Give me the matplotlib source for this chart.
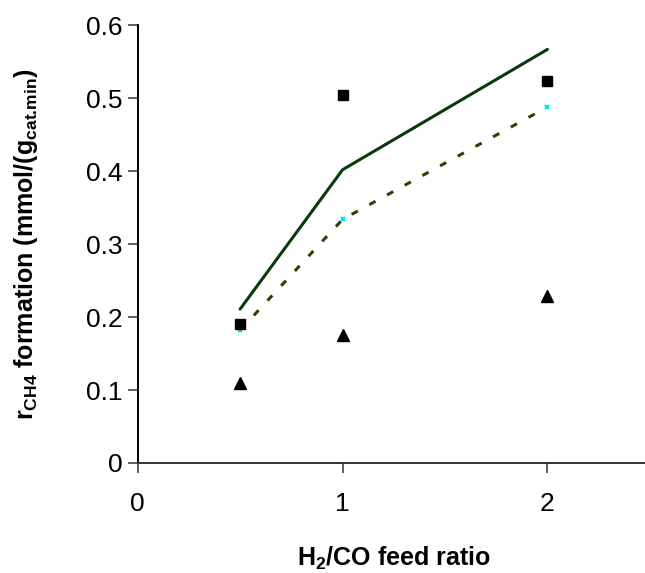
import numpy as np
import matplotlib
matplotlib.use("Agg")
import matplotlib.pyplot as plt

plt.rcParams['font.family'] = ['Liberation Sans', 'DejaVu Sans']
plt.rcParams['mathtext.fontset'] = 'custom'
plt.rcParams['mathtext.rm'] = 'Liberation Sans:bold'
plt.rcParams['mathtext.bf'] = 'Liberation Sans:bold'

# H2/CO feed ratio
ratio = [0.5, 1, 2]
# experimental rates
exp_square = [0.190, 0.504, 0.524]
exp_triangle = [0.109, 0.175, 0.229]
# model predictions
model_solid = [0.211, 0.402, 0.567]
model_dotted = [0.182, 0.334, 0.488]

xticks = [0, 1, 2]
yticks = [0, 0.1, 0.2, 0.3, 0.4, 0.5, 0.6]
ytick_labels = ["0", "0.1", "0.2", "0.3", "0.4", "0.5", "0.6"]

fig = plt.figure(figsize=(6.45, 5.73), dpi=100)
ax = fig.add_axes([0.2135, 0.192, 0.794, 0.7638])

ax.plot(ratio, model_solid, color='#0a3a0a', lw=2.2, solid_capstyle='round')
ax.plot(ratio, model_dotted, color='#3a3a08', lw=2.2, dashes=(2.3, 4.3),
        marker='x', markersize=3.5, markeredgewidth=1.5,
        markeredgecolor='#00e5ee')
ax.plot(ratio, exp_square, ls='none', marker='s', markersize=7, color='black')
ax.plot(ratio, exp_triangle, ls='none', marker='^', markersize=8.5, color='black')

ax.set_xlim(0, 2.5)
ax.set_ylim(0, 0.6)
ax.set_xticks(xticks)
ax.set_xticklabels([str(t) for t in xticks])
ax.set_yticks(yticks)
ax.set_yticklabels(ytick_labels)

for s in ['top', 'right']:
    ax.spines[s].set_visible(False)
for s in ['left', 'bottom']:
    ax.spines[s].set_color('#333333')
    ax.spines[s].set_linewidth(1.4)
ax.spines['left'].set_color('black')

ax.tick_params(axis='both', direction='out', length=7.2, width=1.2,
               colors='#444444', labelcolor='black', labelsize=19)
ax.tick_params(axis='x', pad=14)
ax.tick_params(axis='y', pad=4)

ax.set_xlabel(r'H$_\text{2}$/CO feed ratio', fontsize=18, fontweight='bold')
ax.xaxis.set_label_coords(0.5, -0.186)
ax.set_ylabel(r'r$_\text{CH4}$ formation (mmol/(g$_\text{cat.min}$)',
              fontsize=18, fontweight='bold')
ax.yaxis.set_label_coords(-0.19, 0.5)

fig.savefig("out.png", dpi=100)
